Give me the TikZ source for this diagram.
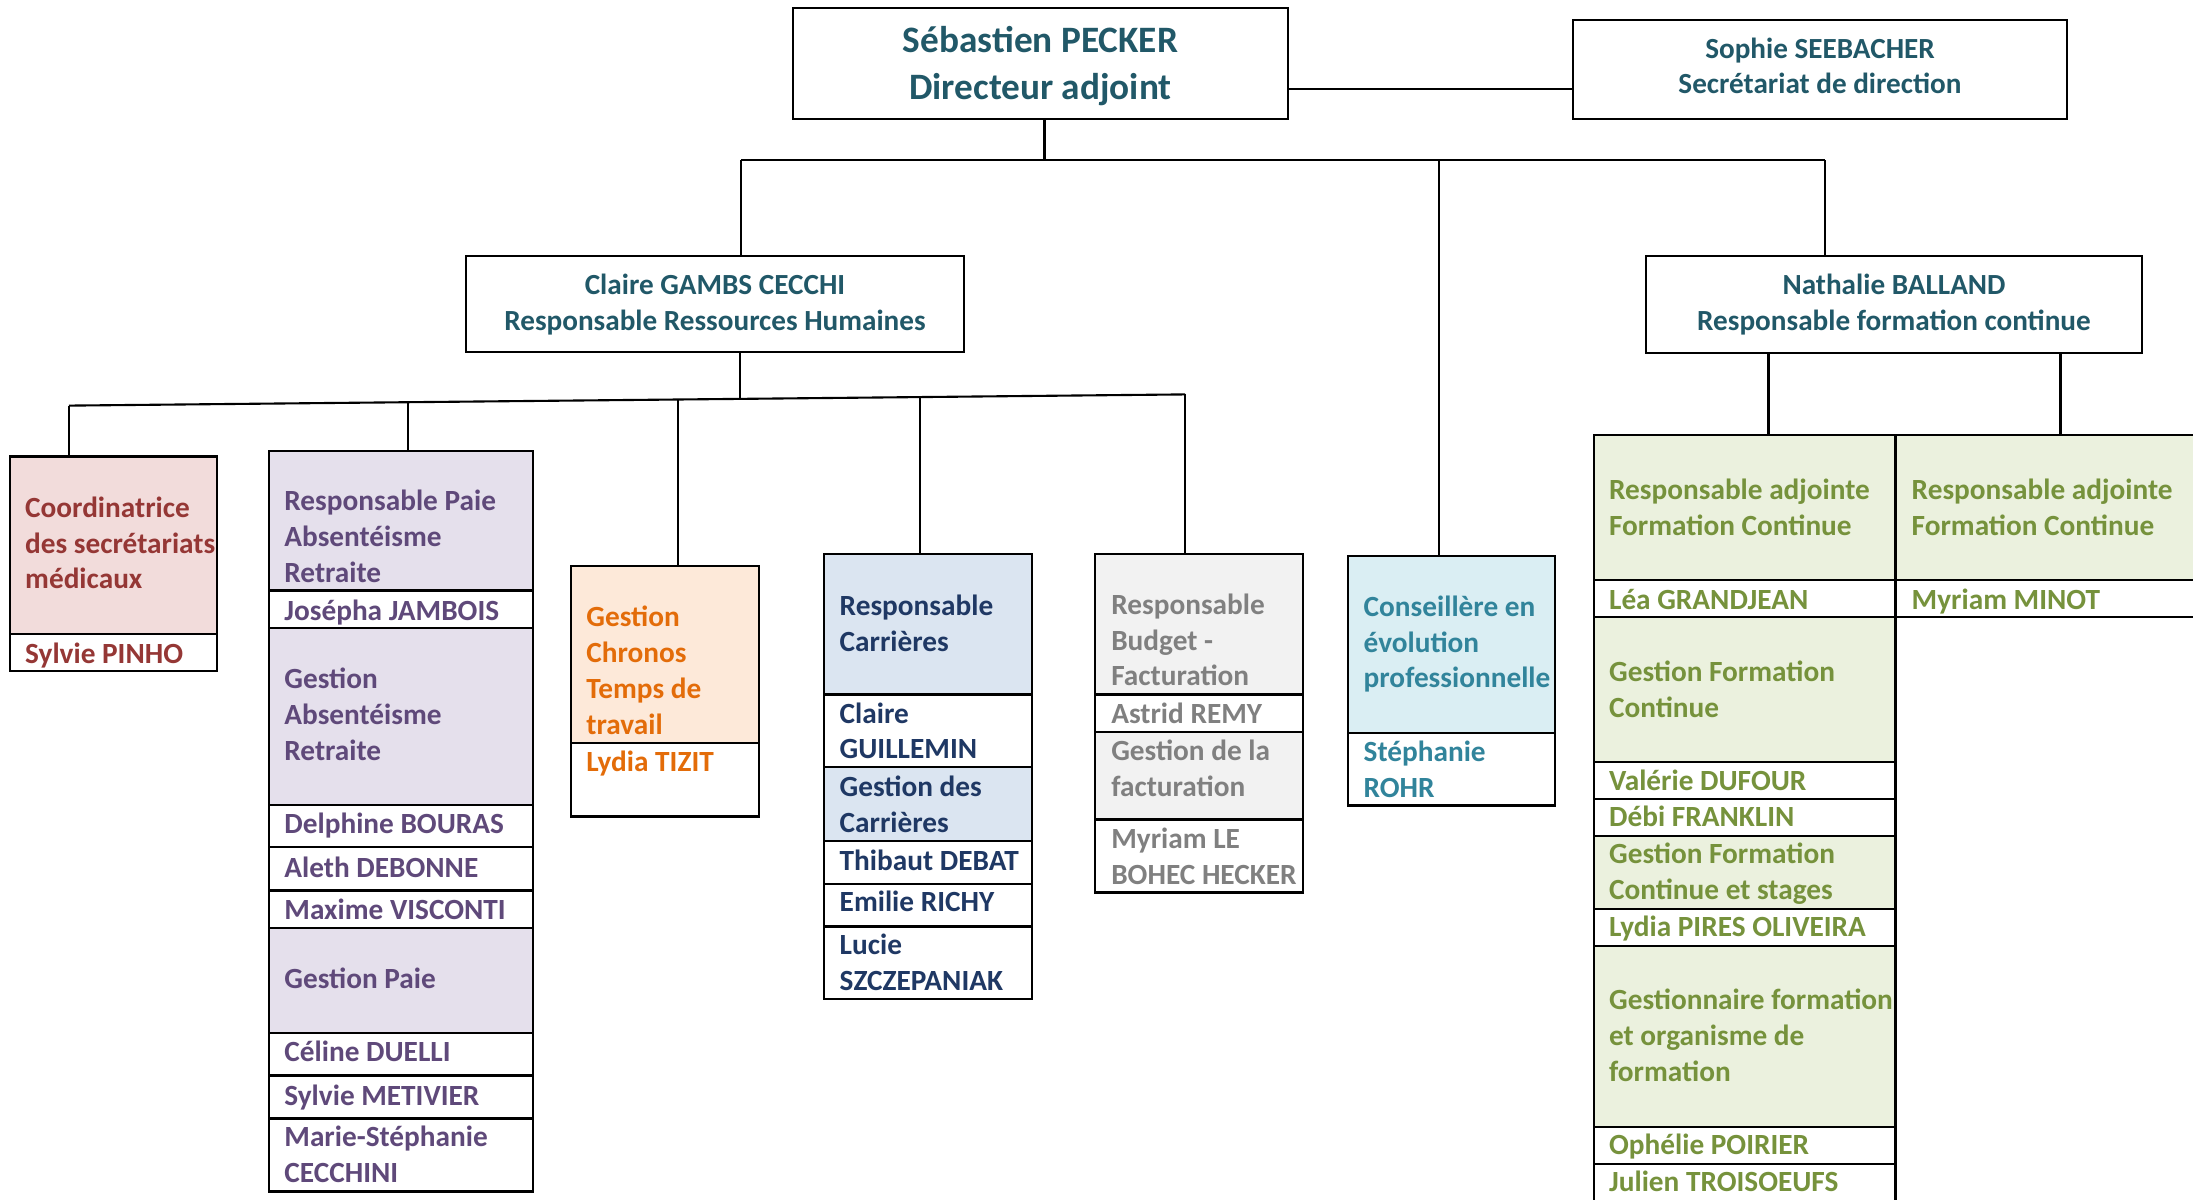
\documentclass[tikz,border=0pt]{standalone}
\usepackage{fontspec}
\setmainfont{Carlito}
\usetikzlibrary{fit}

\definecolor{headtext}{HTML}{215868}
\definecolor{coordfill}{HTML}{F2DCDB}
\definecolor{coordtext}{HTML}{953735}
\definecolor{paiefill}{HTML}{E5E0EC}
\definecolor{paietext}{HTML}{5F497A}
\definecolor{chronofill}{HTML}{FDE9D9}
\definecolor{chronotext}{HTML}{E36C09}
\definecolor{carrfill}{HTML}{DBE5F1}
\definecolor{carrtext}{HTML}{1F3864}
\definecolor{budgfill}{HTML}{F2F2F2}
\definecolor{budgtext}{HTML}{808080}
\definecolor{consfill}{HTML}{DAEEF3}
\definecolor{constext}{HTML}{31849B}
\definecolor{formfill}{HTML}{EBF1DE}
\definecolor{formtext}{HTML}{76923C}

\tikzset{
  cellbox/.style={draw, line width=0.7pt, inner sep=0pt, rectangle},
  celltext/.style={inner sep=0pt, anchor=base west, align=left, font=\bfseries\fontsize{8.33}{10.16}\selectfont},
  headtitle/.style={inner sep=0pt, anchor=base, align=center, text=headtext, font=\bfseries\fontsize{8.3}{10}\selectfont},
  link/.style={line width=0.6pt}
}
% one table cell, from corner to corner
\newcommand{\cell}[6]{\node[cellbox, fill=#6, fit={(#2,#3) (#4,#5)}] (#1) {};}

\begin{document}
\begin{tikzpicture}[x=0.01cm, y=-0.01cm]
\clip (0,0) rectangle (2193,1199);
\fill[white] (0,0) rectangle (2193,1199);

% Direction (texts placed by the baseline of their last line)
\cell{dir}{793}{8}{1288}{119}{white}
\node[headtitle, font=\bfseries\fontsize{10.6}{13.1}\selectfont] (dirt) at (1040.5,99) {Sébastien PECKER\\Directeur adjoint};
\cell{sec}{1573}{20}{2067}{119}{white}
\node[headtitle] (sect) at (1820,93.5) {Sophie SEEBACHER\\Secrétariat de direction};
\cell{rh}{466}{256}{964}{352}{white}
\node[headtitle] (rht) at (715,330) {Claire GAMBS CECCHI\\Responsable Ressources Humaines};
\cell{fc}{1646}{256}{2142}{353}{white}
\node[headtitle] (fct) at (1894,330) {Nathalie BALLAND\\Responsable formation continue};

% Coordinatrice
\cell{co1}{10}{456.3}{217}{634.1}{coordfill}
\cell{co2}{10}{634.1}{217}{670.9}{white}
\node[celltext, text=coordtext] (co1t) at (24.5,588.9) {Coordinatrice\\des secrétariats\\médicaux};
\node[celltext, text=coordtext] (co2t) at (24.5,663.4) {Sylvie PINHO};

% Paie
\cell{pa1}{269}{450.8}{533}{590.4}{paiefill}
\cell{pa2}{269}{590.4}{533}{628.1}{white}
\cell{pa3}{269}{628.1}{533}{805}{paiefill}
\cell{pa4}{269}{805}{533}{847.2}{white}
\cell{pa5}{269}{847.2}{533}{890.4}{white}
\cell{pa6}{269}{890.4}{533}{928.2}{white}
\cell{pa7}{269}{928.2}{533}{1033}{paiefill}
\cell{pa8}{269}{1033}{533}{1075.7}{white}
\cell{pa9}{269}{1075.7}{533}{1118.5}{white}
\cell{pa10}{269}{1118.5}{533}{1191.5}{white}
\node[celltext, text=paietext] (pa1t) at (283.7,582.4) {Responsable Paie\\Absentéisme\\Retraite};
\node[celltext, text=paietext] (pa2t) at (283.7,620.2) {Josépha JAMBOIS};
\node[celltext, text=paietext] (pa3t) at (283.7,760.3) {Gestion\\Absentéisme\\Retraite};
\node[celltext, text=paietext] (pa4t) at (283.7,833.3) {Delphine BOURAS};
\node[celltext, text=paietext] (pa5t) at (283.7,877) {Aleth DEBONNE};
\node[celltext, text=paietext] (pa6t) at (283.7,919.3) {Maxime VISCONTI};
\node[celltext, text=paietext] (pa7t) at (283.7,988.8) {Gestion Paie};
\node[celltext, text=paietext] (pa8t) at (283.7,1061.8) {Céline DUELLI};
\node[celltext, text=paietext] (pa9t) at (283.7,1105.5) {Sylvie METIVIER};
\node[celltext, text=paietext] (pa10t) at (283.7,1182.5) {Marie-Stéphanie\\CECCHINI};

% Chronos
\cell{ch1}{571}{566}{759}{742.9}{chronofill}
\cell{ch2}{571}{742.9}{759}{816.4}{white}
\node[celltext, text=chronotext] (ch1t) at (585.7,734) {Gestion\\Chronos\\Temps de\\travail};
\node[celltext, text=chronotext] (ch2t) at (585.7,771.7) {Lydia TIZIT};

% Carrieres
\cell{ca1}{824}{554.1}{1032}{694.7}{carrfill}
\cell{ca2}{824}{694.7}{1032}{767.2}{white}
\cell{ca3}{824}{767.2}{1032}{840.8}{carrfill}
\cell{ca4}{824}{840.8}{1032}{884}{white}
\cell{ca5}{824}{884}{1032}{926.7}{white}
\cell{ca6}{824}{926.7}{1032}{999.2}{white}
\node[celltext, text=carrtext] (ca1t) at (839,651) {Responsable\\Carrières};
\node[celltext, text=carrtext] (ca2t) at (839,758.8) {Claire\\GUILLEMIN};
\node[celltext, text=carrtext] (ca3t) at (839,832.3) {Gestion des\\Carrières};
\node[celltext, text=carrtext] (ca4t) at (839,870) {Thibaut DEBAT};
\node[celltext, text=carrtext] (ca5t) at (839,911.8) {Emilie RICHY};
\node[celltext, text=carrtext] (ca6t) at (839,990.3) {Lucie\\SZCZEPANIAK};

% Budget
\cell{bu1}{1095}{554.1}{1303}{694.7}{budgfill}
\cell{bu2}{1095}{694.7}{1303}{732}{white}
\cell{bu3}{1095}{732}{1303}{819.4}{budgfill}
\cell{bu4}{1095}{819.4}{1303}{892.4}{white}
\node[celltext, text=budgtext] (bu1t) at (1110.6,685.8) {Responsable\\Budget -\\Facturation};
\node[celltext, text=budgtext] (bu2t) at (1110.6,723) {Astrid REMY};
\node[celltext, text=budgtext] (bu3t) at (1110.6,796.5) {Gestion de la\\facturation};
\node[celltext, text=budgtext] (bu4t) at (1110.6,884) {Myriam LE\\BOHEC HECKER};

% Conseillere
\cell{cs1}{1348}{556.1}{1555}{733}{consfill}
\cell{cs2}{1348}{733}{1555}{805.5}{white}
\node[celltext, text=constext] (cs1t) at (1363,687.8) {Conseillère en\\évolution\\professionnelle};
\node[celltext, text=constext] (cs2t) at (1363,797) {Stéphanie\\ROHR};

% Formation continue
\cell{fo1}{1594}{435}{1895.5}{580}{formfill}
\cell{fo2}{1594}{580}{1895.5}{617}{white}
\cell{fo3}{1594}{617}{1895.5}{762}{formfill}
\cell{fo4}{1594}{762}{1895.5}{799}{white}
\cell{fo5}{1594}{799}{1895.5}{836}{white}
\cell{fo6}{1594}{836}{1895.5}{909}{formfill}
\cell{fo7}{1594}{909}{1895.5}{946}{white}
\cell{fo8}{1594}{946}{1895.5}{1127}{formfill}
\cell{fo9}{1594}{1127}{1895.5}{1164}{white}
\cell{fo10}{1594}{1164}{1895.5}{1215}{white}
\cell{fr1}{1895.5}{435}{2215}{580}{formfill}
\cell{fr2}{1895.5}{580}{2215}{617}{white}
\node[celltext, text=formtext] (fo1t) at (1608.4,535) {Responsable adjointe\\Formation Continue};
\node[celltext, text=formtext] (fo2t) at (1608.4,609) {Léa GRANDJEAN};
\node[celltext, text=formtext] (fo3t) at (1608.4,717) {Gestion Formation\\Continue};
\node[celltext, text=formtext] (fo4t) at (1608.4,790) {Valérie DUFOUR};
\node[celltext, text=formtext] (fo5t) at (1608.4,826) {Débi FRANKLIN};
\node[celltext, text=formtext] (fo6t) at (1608.4,899) {Gestion Formation\\Continue et stages};
\node[celltext, text=formtext] (fo7t) at (1608.4,936.6) {Lydia PIRES OLIVEIRA};
\node[celltext, text=formtext] (fo8t) at (1608.4,1081) {Gestionnaire formation\\et organisme de\\formation};
\node[celltext, text=formtext] (fo9t) at (1608.4,1154) {Ophélie POIRIER};
\node[celltext, text=formtext] (fo10t) at (1608.4,1191.5) {Julien TROISOEUFS};
\node[celltext, text=formtext] (fr1t) at (1911,535) {Responsable adjointe\\Formation Continue};
\node[celltext, text=formtext] (fr2t) at (1911,609) {Myriam MINOT};

% Links from the top
\coordinate (barL) at (741,160);
\coordinate (barM) at (1439,160);
\coordinate (barR) at (1825,160);
\coordinate (dirLink) at (1044.5,119);
\coordinate (secLink) at (1288,89);
\draw[link] (secLink) -- (secLink -| sec.west);
\draw[link] (dirLink) -- (dirLink |- barL);
\draw[link] (barL) -- (barR);
\draw[link] (barL) -- (barL |- rh.north);
\draw[link] (barM) -- (barM |- cs1.north);
\draw[link] (barR) -- (barR |- fc.north);

% Links under the RH box
\coordinate (rhLink) at (740,398.9);
\coordinate (rhA) at (69,405.6);
\coordinate (rhB) at (407.6,402.2);
\coordinate (rhC) at (677.7,399.5);
\coordinate (rhD) at (919.7,397.1);
\coordinate (rhE) at (1185,394.4);
\draw[link] (rh.south -| rhLink) -- (rhLink);
\draw[link] (rhA) -- (rhE);
\draw[link] (rhA) -- (rhA |- co1.north);
\draw[link] (rhB) -- (rhB |- pa1.north);
\draw[link] (rhC) -- (rhC |- ch1.north);
\draw[link] (rhD) -- (rhD |- ca1.north);
\draw[link] (rhE) -- (rhE |- bu1.north);

% Links under the formation box
\coordinate (fcA) at (1768.5,353);
\coordinate (fcB) at (2060.5,353);
\draw[link] (fcA) -- (fcA |- fo1.north);
\draw[link] (fcB) -- (fcB |- fr1.north);
\end{tikzpicture}
\end{document}
